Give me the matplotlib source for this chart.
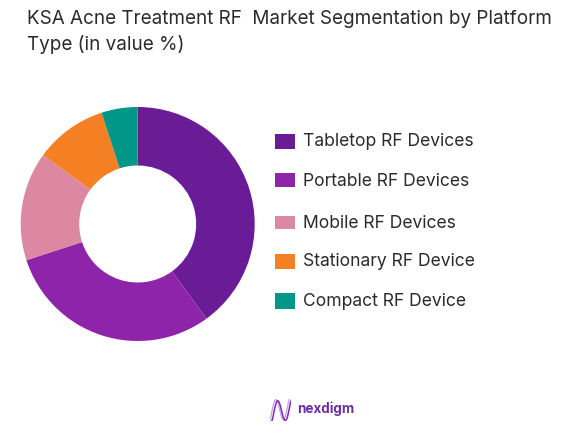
import numpy as np
import matplotlib
matplotlib.use('Agg')
import matplotlib.pyplot as plt
from matplotlib.patches import Rectangle

labels = ['Tabletop RF Devices', 'Portable RF Devices', 'Mobile RF Devices',
          'Stationary RF Device', 'Compact RF Device']
values = [40, 30, 15, 10, 5]
colors = ['#6A1B96', '#8E24AA', '#DD88A3', '#F58024', '#009688']

W, H = 579, 434
plt.rcParams['font.family'] = ['Inter', 'DejaVu Sans']
text_color = '#2b2b2b'

fig = plt.figure(figsize=(W / 100, H / 100), dpi=100)

# donut, centre (137.7, 224) radius 117 px
cx, cy, r = 137.7, 224, 117
ax = fig.add_axes([(cx - r) / W, 1 - (cy + r) / H, 2 * r / W, 2 * r / H])
ax.pie(values, colors=colors, startangle=90, counterclock=False, radius=1,
       wedgeprops=dict(width=0.5, edgecolor='none'))
ax.set_xlim(-1, 1)
ax.set_ylim(-1, 1)
ax.set_aspect('equal')


def fx(px):
    return px / W


def fy(px):
    return 1 - px / H


fig.text(fx(27), fy(19.5), 'KSA Acne Treatment RF  Market Segmentation by Platform',
         fontsize=13.6, color=text_color, va='center', ha='left')
fig.text(fx(27), fy(44), 'Type (in value %)',
         fontsize=13.6, color=text_color, va='center', ha='left')

# legend rows are unevenly spaced in the original
box_top = [134, 173, 216, 254, 293]
box_h = [15, 14, 13, 15, 16]
text_y = [142, 181, 223, 261, 302]
for i in range(len(labels)):
    fig.patches.append(Rectangle((fx(275), fy(box_top[i] + box_h[i])), 20 / W, box_h[i] / H,
                                 transform=fig.transFigure, facecolor=colors[i],
                                 edgecolor='none'))
    fig.text(fx(303), fy(text_y[i]), labels[i], fontsize=12.6, color=text_color,
             va='center', ha='left')

# logo, an N drawn as a wave
logo_ax = fig.add_axes([fx(270), fy(421), 21 / W, 22 / H])
t = np.linspace(0, 1, 80)
wave_x = 0.5 + 0.46 * np.sin(np.pi * (t - 0.5)) * (1 - 0.25 * np.sin(np.pi * t))
wave_y = 0.5 - 0.45 * np.cos(3 * np.pi * t)
logo_ax.plot(wave_x - 0.04, wave_y + 0.02, color='#C9A6E4', lw=1.0)
logo_ax.plot(wave_x + 0.05, wave_y - 0.03, color='#7B2CBF', lw=1.1)
logo_ax.set_xlim(0, 1)
logo_ax.set_ylim(0, 1)
logo_ax.axis('off')
fig.text(fx(297), fy(409), 'nexdigm', fontsize=9.7, fontweight='bold', color='#6F2DA8',
         va='center', ha='left')

fig.savefig('out.png', dpi=100)
